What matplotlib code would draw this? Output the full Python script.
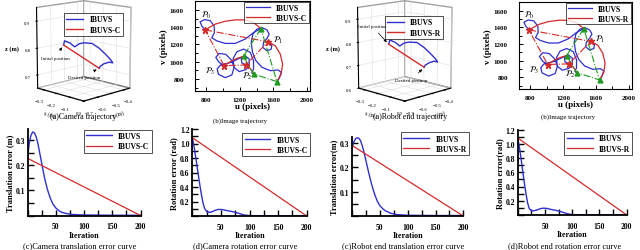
import matplotlib
matplotlib.use("Agg")
import matplotlib.pyplot as plt
from mpl_toolkits.mplot3d import proj3d
from matplotlib.ticker import MultipleLocator

plt.rcParams['font.family'] = ['Liberation Serif', 'DejaVu Serif']
plt.rcParams['mathtext.fontset'] = 'stix'

W, H = 640, 251
BLUE = '#2f2fd0'
RED = '#d42a2a'
GREEN = '#1f9a1f'

# ---- 3D camera trajectory ----
cam_x = [-0.21, -0.203, -0.193, -0.175, -0.175, -0.175, -0.158, -0.14, -0.123, -0.105,
         -0.088, -0.07, -0.053, -0.042, -0.035]
cam_y = [-0.639, -0.638, -0.609, -0.592, -0.56, -0.522, -0.479, -0.443, -0.413, -0.39,
         -0.391, -0.438, -0.497, -0.538, -0.553]
cam_z = [0.82, 0.836, 0.826, 0.812, 0.82, 0.82, 0.815, 0.795, 0.772, 0.75,
         0.74, 0.75, 0.753, 0.749, 0.745]
cam_line_x = [-0.21, -0.035]
cam_line_y = [-0.639, -0.553]
cam_line_z = [0.82, 0.745]

# ---- 3D robot end trajectory ----
rob_x = [-0.21, -0.203, -0.193, -0.175, -0.175, -0.175, -0.158, -0.14, -0.123, -0.105,
         -0.088, -0.07, -0.053, -0.042, -0.035]
rob_y = [-0.609, -0.608, -0.579, -0.562, -0.53, -0.492, -0.449, -0.413, -0.383, -0.36,
         -0.361, -0.408, -0.467, -0.508, -0.523]
rob_z = [0.798, 0.817, 0.805, 0.789, 0.798, 0.798, 0.793, 0.769, 0.742, 0.717,
         0.705, 0.717, 0.72, 0.716, 0.711]
rob_line_x = [-0.21, -0.035]
rob_line_y = [-0.609, -0.523]
rob_line_z = [0.798, 0.711]

# ---- image-plane features ----
init_u = [784, 1536, 1272, 1012]
init_v = [1369, 1231, 962, 954]
des_u = [1452, 1644, 1364, 1244]
des_v = [1385, 769, 858, 1062]
init_order = [0, 1, 2, 3, 0]
des_order = [0, 3, 2, 1, 0]
feat_names = [r'$\mathcal{P}_0$', r'$\mathcal{P}_1$', r'$\mathcal{P}_2$', r'$\mathcal{P}_3$']
name_u = [792, 1656, 1284, 844]
name_v = [1550, 1262, 846, 896]

blue_u = [
    [784, 744, 724, 776, 844, 892, 896, 864, 924, 1024, 1144, 1264, 1364, 1452],
    [1536, 1584, 1576, 1524, 1476, 1484, 1524, 1552, 1524, 1464, 1404, 1356, 1336, 1352,
     1392, 1464, 1564, 1656, 1696, 1672, 1644],
    [1272, 1224, 1216, 1264, 1312, 1312, 1272, 1192, 1128, 1120, 1164, 1244, 1324, 1364,
     1364, 1344, 1364],
    [1012, 952, 912, 952, 1032, 1096, 1132, 1104, 1024, 944, 928, 968, 1096, 1176, 1244],
]
blue_v = [
    [1369, 1415, 1462, 1488, 1477, 1415, 1338, 1277, 1242, 1212, 1212, 1262, 1338, 1385],
    [1231, 1204, 1146, 1127, 1165, 1223, 1269, 1319, 1369, 1396, 1377, 1319, 1223, 1108,
     1012, 935, 896, 904, 877, 808, 769],
    [962, 985, 1038, 1069, 1031, 954, 908, 885, 935, 1038, 1115, 1146, 1108, 1012,
     915, 869, 858],
    [954, 992, 1050, 1096, 1085, 1023, 935, 846, 815, 854, 915, 962, 992, 1031, 1062],
]
red_u = [
    [784, 904, 1024, 1144, 1264, 1364, 1452],
    [1536, 1624, 1684, 1712, 1696, 1644],
    [1272, 1312, 1344, 1364],
    [1012, 1084, 1164, 1244],
]
red_v = [
    [1369, 1435, 1469, 1485, 1485, 1454, 1385],
    [1231, 1185, 1088, 973, 858, 769],
    [962, 935, 896, 858],
    [954, 1000, 1038, 1062],
]

# ---- error curves ----
it_ct = [0, 3, 6, 9, 12, 15, 18, 21, 24, 27, 30, 35, 40, 45, 50, 55, 60, 70, 80, 100, 150, 200]
err_ct = [0.23, 0.29, 0.32, 0.333, 0.33, 0.315, 0.29, 0.255, 0.22, 0.185, 0.15, 0.105, 0.07,
          0.045, 0.03, 0.02, 0.013, 0.007, 0.004, 0.002, 0.001, 0.001]
lin_ct = [0.228, 0.0]

it_cr = [0, 3, 6, 9, 12, 15, 18, 21, 25, 30, 35, 40, 45, 50, 55, 60, 70, 80, 90, 100, 150, 200]
err_cr = [1.08, 0.95, 0.80, 0.64, 0.48, 0.33, 0.2, 0.11, 0.06, 0.05, 0.06, 0.08, 0.09, 0.09,
          0.085, 0.075, 0.06, 0.04, 0.015, 0.005, 0.002, 0.002]
lin_cr = [1.08, 0.0]

it_rt = [0, 3, 6, 9, 12, 15, 18, 21, 25, 30, 35, 40, 45, 50, 55, 60, 70, 80, 100, 150, 200]
err_rt = [0.285, 0.305, 0.318, 0.322, 0.32, 0.31, 0.29, 0.265, 0.225, 0.175, 0.13, 0.092,
          0.062, 0.042, 0.03, 0.021, 0.011, 0.006, 0.003, 0.002, 0.002]
lin_rt = [0.29, 0.0]

it_rr = [0, 3, 6, 9, 12, 15, 18, 21, 25, 30, 35, 40, 45, 50, 55, 60, 70, 80, 90, 100, 150, 200]
err_rr = [1.08, 0.95, 0.79, 0.62, 0.45, 0.3, 0.17, 0.09, 0.06, 0.06, 0.07, 0.085, 0.095, 0.095,
          0.09, 0.08, 0.065, 0.045, 0.02, 0.005, 0.002, 0.002]
lin_rr = [1.08, 0.0]
lin_it = [0, 200]


def box(l, t, r, b):
    return [l / W, 1 - b / H, (r - l) / W, (b - t) / H]


fig = plt.figure(figsize=(6.4, 2.51), dpi=100)
bold = dict(fontweight='bold')


def traj3d(rect, name, path, line, zlim, zticks, leg_anchor, init_off, des_off):
    ax = fig.add_axes(rect, projection='3d')
    ax.plot(*path, color=BLUE, lw=1.0, label='IBUVS')
    ax.plot(*line, color=RED, lw=1.0, label=name)
    ax.set_xlim(-0.35, 0.0)
    ax.set_ylim(-0.70, -0.35)
    ax.set_zlim(*zlim)
    ax.set_xticks([-0.3, -0.2, -0.1, 0.0])
    ax.set_yticks([-0.7, -0.6, -0.5, -0.4])
    ax.set_zticks(zticks)
    ax.view_init(elev=12, azim=-45)
    ax.set_box_aspect((1, 1, 1.25), zoom=0.93)
    ax.zaxis.set_ticks_position('lower')
    ax.zaxis.set_label_position('lower')
    for a in (ax.xaxis, ax.yaxis, ax.zaxis):
        a.pane.set_facecolor('white')
        a.pane.set_edgecolor('#444444')
        a._axinfo['grid']['color'] = '#dddddd'
        a._axinfo['grid']['linewidth'] = 0.4
    ax.tick_params(labelsize=3.5, pad=-3)
    ax.set_xlabel('x (m)', fontsize=4, labelpad=-11)
    ax.set_ylabel('y (m)', fontsize=4, labelpad=-11)
    ax.zaxis.set_rotate_label(False)
    ax.set_zlabel('z (m)', fontsize=4.5, labelpad=-8, rotation=0, **bold)
    leg = ax.legend(loc='upper right', bbox_to_anchor=leg_anchor, frameon=True,
                    fancybox=False, edgecolor='black', handlelength=2.2, borderpad=0.3,
                    labelspacing=0.3, borderaxespad=0.0, prop=dict(size=5.5, weight='bold'))
    leg.get_frame().set_linewidth(0.6)
    proj = ax.get_proj()
    xi, yi, _ = proj3d.proj_transform(line[0][0], line[1][0], line[2][0], proj)
    xd, yd, _ = proj3d.proj_transform(line[0][1], line[1][1], line[2][1], proj)
    ax.annotate('Initial position', xy=(xi, yi), xytext=init_off, textcoords='offset points',
                fontsize=3.5, ha='center', va='center',
                arrowprops=dict(arrowstyle='-|>', color='black', lw=0.5, mutation_scale=4))
    ax.annotate('Desired position', xy=(xd, yd), xytext=des_off, textcoords='offset points',
                fontsize=3.5, ha='center', va='center',
                arrowprops=dict(arrowstyle='-|>', color='black', lw=0.5, mutation_scale=4))
    return ax


def image_traj(rect, name):
    ax = fig.add_axes(rect)
    for k in range(4):
        ax.plot(blue_u[k], blue_v[k], color=BLUE, lw=0.9, label='IBUVS' if k == 0 else None)
    for k in range(4):
        ax.plot(red_u[k], red_v[k], color=RED, lw=0.9, label=name if k == 0 else None)
    ax.plot([init_u[i] for i in init_order], [init_v[i] for i in init_order],
            color=RED, lw=0.8, ls='-.')
    ax.plot([des_u[i] for i in des_order], [des_v[i] for i in des_order],
            color=GREEN, lw=0.8, ls='-.')
    ax.plot(init_u, init_v, ls='none', marker='*', color=RED, ms=5)
    ax.plot(des_u, des_v, ls='none', marker='^', color=GREEN, ms=3.5)
    for k in range(4):
        ax.text(name_u[k], name_v[k], feat_names[k], fontsize=6, ha='center', va='center')
    ax.set_xlim(663, 2040)
    ax.set_ylim(660, 1704)
    ax.set_xticks([800, 1200, 1600, 2000])
    ax.set_yticks([800, 1000, 1200, 1400, 1600])
    ax.xaxis.set_minor_locator(MultipleLocator(200))
    ax.yaxis.set_minor_locator(MultipleLocator(100))
    ax.tick_params(which='both', direction='in', labelsize=5, width=0.7)
    ax.tick_params(which='major', length=3)
    ax.tick_params(which='minor', length=2)
    ax.tick_params(axis='y', pad=8)
    ax.tick_params(axis='x', pad=4)
    for lab in ax.get_xticklabels() + ax.get_yticklabels():
        lab.set_fontweight('bold')
    ax.set_xlabel('u (pixels)', fontsize=6.5, labelpad=0, **bold)
    ax.set_ylabel('v (pixels)', fontsize=6.5, labelpad=1, **bold)
    for s in ax.spines.values():
        s.set_linewidth(0.8)
    leg = ax.legend(loc='upper right', bbox_to_anchor=(1.0, 1.0), frameon=True, fancybox=False,
                    edgecolor='black', handlelength=3.2, borderpad=0.25, labelspacing=0.25,
                    borderaxespad=0.1, prop=dict(size=5.5, weight='bold'))
    leg.get_frame().set_linewidth(0.6)
    return ax


def err_curve(rect, it, err, lin, name, ylabel, ylim, ymaj, leg_anchor):
    ax = fig.add_axes(rect)
    ax.plot(it, err, color=BLUE, lw=1.0, label='IBUVS')
    ax.plot(lin_it, lin, color=RED, lw=0.9, label=name)
    ax.set_xlim(0, 200)
    ax.set_ylim(*ylim)
    ax.set_xticks([50, 100, 150, 200])
    ax.xaxis.set_minor_locator(MultipleLocator(25))
    ax.yaxis.set_major_locator(MultipleLocator(ymaj))
    ax.yaxis.set_minor_locator(MultipleLocator(ymaj / 2))
    ax.set_yticks([t for t in ax.get_yticks() if ylim[0] < t <= ylim[1] + 1e-9])
    ax.spines['top'].set_visible(False)
    ax.spines['right'].set_visible(False)
    ax.spines['left'].set_linewidth(1.3)
    ax.spines['bottom'].set_linewidth(1.3)
    ax.tick_params(which='both', direction='in', labelsize=5.5, width=1.0, length=4)
    ax.tick_params(axis='x', pad=5)
    ax.tick_params(axis='y', pad=2)
    for lab in ax.get_xticklabels() + ax.get_yticklabels():
        lab.set_fontweight('bold')
    ax.set_xlabel('Iteration', fontsize=5.8, labelpad=0.3, **bold)
    ax.set_ylabel(ylabel, fontsize=6, labelpad=1, **bold)
    leg = ax.legend(loc='upper right', bbox_to_anchor=leg_anchor, frameon=True, fancybox=False,
                    edgecolor='black', handlelength=3.4, borderpad=0.3, labelspacing=0.3,
                    borderaxespad=0.0, prop=dict(size=5.5, weight='bold'))
    leg.get_frame().set_linewidth(0.6)
    return ax


traj3d(box(-3, -14, 167, 116), 'IBUVS-C', (cam_x, cam_y, cam_z),
       (cam_line_x, cam_line_y, cam_line_z), (0.65, 0.95), [0.7, 0.8, 0.9], (0.815, 0.785),
       (-6, -9), (-11, -6))
image_traj(box(195, 2, 310, 92), 'IBUVS-C')
traj3d(box(318, -14, 488, 116), 'IBUVS-R', (rob_x, rob_y, rob_z),
       (rob_line_x, rob_line_y, rob_line_z), (0.6, 0.95), [0.6, 0.7, 0.8, 0.9], (0.81, 0.76),
       (-12, 13), (-9, -9))
image_traj(box(519, 3, 632, 90), 'IBUVS-R')

err_curve(box(27.6, 130, 140.5, 216.5), it_ct, err_ct, lin_ct, 'IBUVS-C', 'Translation error (m)',
          (0, 0.345), 0.1, (1.10, 0.99))
err_curve(box(192.4, 130, 306.7, 217), it_cr, err_cr, lin_cr, 'IBUVS-C', 'Rotation error (rad)',
          (0, 1.2), 0.2, (1.03, 0.95))
err_curve(box(352.2, 138, 463.3, 217), it_rt, err_rt, lin_rt, 'IBUVS-R', 'Translation error(m)',
          (0, 0.325), 0.1, (1.05, 1.06))
err_curve(box(517.8, 130.5, 626.7, 216), it_rr, err_rr, lin_rr, 'IBUVS-R', 'Rotation error(rad)',
          (0, 1.2), 0.2, (1.05, 0.97))

captions = ['(a)Camera trajectory', '(b)Image trajectory', '(a)Robot end trajectory',
            '(b)Image trajectory', '(c)Camera translation error curve',
            '(d)Camera rotation error curve', '(c)Robot end translation error curve',
            '(d)Robot end rotation error curve']
cap_x = [83, 240, 410, 568, 80, 245, 403, 565]
cap_y = [117, 121, 117, 117, 246, 246, 246, 246]
cap_size = [5.8, 5.0, 5.8, 5.0, 6.0, 6.0, 6.0, 6.0]
for t, cx, cy, cs in zip(captions, cap_x, cap_y, cap_size):
    fig.text(cx / W, 1 - cy / H, t, fontsize=cs, ha='center', va='center')

fig.savefig('out.png', dpi=100)
